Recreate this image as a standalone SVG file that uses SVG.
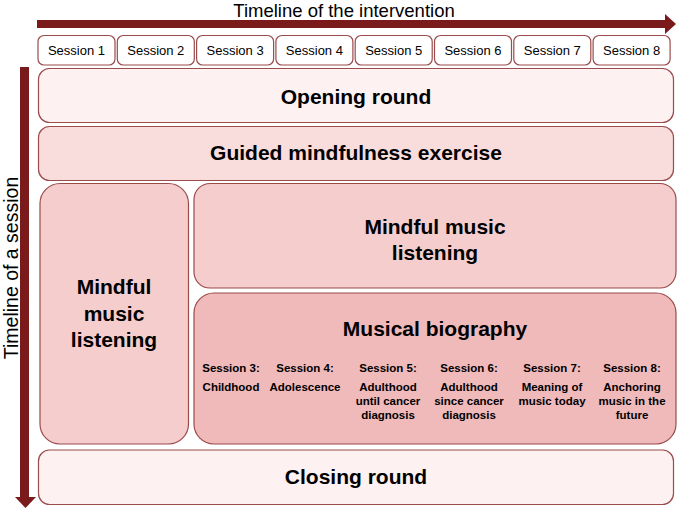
<svg xmlns="http://www.w3.org/2000/svg" width="677" height="509" viewBox="0 0 677 509">
<style>
.t{font-family:"Liberation Sans",Arial,sans-serif;fill:#000}
.sess{font-size:13px;text-anchor:middle}
.title{font-size:21px;font-weight:bold;text-anchor:middle}
.sub{font-size:11.5px;font-weight:bold;text-anchor:middle}
.axis{font-size:18.5px}
.box{stroke:#9a4b4b;stroke-width:1.2}
.sbox{fill:#ffffff;stroke:#9a4b4b;stroke-width:1.2}
.arrow{fill:#7b1a1a}
</style>
<rect width="677" height="509" fill="#ffffff"/>
<g id="connectors">
<rect class="arrow" x="37" y="20" width="629" height="8"/>
<polygon class="arrow" points="665,14 665,34 676,24"/>
<rect class="arrow" x="20" y="67" width="9" height="431"/>
<polygon class="arrow" points="15,497 36,497 25.5,508"/>
</g>
<text class="t axis" x="344" y="16.8" text-anchor="middle">Timeline of the intervention</text>
<text class="t axis" transform="translate(17.7,268) rotate(-90)" text-anchor="middle" style="font-size:19.5px">Timeline of a session</text>
<g id="sessions">
<g id="s1"><rect class="sbox" x="38" y="35.5" width="77" height="29.5" rx="6"/><text class="t sess" x="76.5" y="55">Session 1</text></g>
<g id="s2"><rect class="sbox" x="117.3" y="35.5" width="77" height="29.5" rx="6"/><text class="t sess" x="155.8" y="55">Session 2</text></g>
<g id="s3"><rect class="sbox" x="196.6" y="35.5" width="77" height="29.5" rx="6"/><text class="t sess" x="235.1" y="55">Session 3</text></g>
<g id="s4"><rect class="sbox" x="275.9" y="35.5" width="77" height="29.5" rx="6"/><text class="t sess" x="314.4" y="55">Session 4</text></g>
<g id="s5"><rect class="sbox" x="355.2" y="35.5" width="77" height="29.5" rx="6"/><text class="t sess" x="393.7" y="55">Session 5</text></g>
<g id="s6"><rect class="sbox" x="434.5" y="35.5" width="77" height="29.5" rx="6"/><text class="t sess" x="473" y="55">Session 6</text></g>
<g id="s7"><rect class="sbox" x="513.8" y="35.5" width="77" height="29.5" rx="6"/><text class="t sess" x="552.3" y="55">Session 7</text></g>
<g id="s8"><rect class="sbox" x="593.1" y="35.5" width="77" height="29.5" rx="6"/><text class="t sess" x="631.6" y="55">Session 8</text></g>
</g>
<g id="opening">
<rect class="box" x="38.5" y="68.5" width="635" height="54" rx="11" fill="#fdf1f1"/>
<text class="t title" x="356" y="104">Opening round</text>
</g>
<g id="guided">
<rect class="box" x="38.5" y="126.5" width="635" height="54" rx="11" fill="#f9dcdc"/>
<text class="t title" x="356" y="160">Guided mindfulness exercise</text>
</g>
<g id="mindful-left">
<rect class="box" x="40" y="183.5" width="148.5" height="260.5" rx="20" fill="#f5cdcd"/>
<text class="t title" x="114" y="294">Mindful</text>
<text class="t title" x="114" y="320.5">music</text>
<text class="t title" x="114" y="347">listening</text>
</g>
<g id="mindful-right">
<rect class="box" x="194" y="183.5" width="482" height="104.5" rx="16" fill="#f5cdcd"/>
<text class="t title" x="435" y="234">Mindful music</text>
<text class="t title" x="435" y="260">listening</text>
</g>
<g id="biography">
<rect class="box" x="194" y="293" width="482" height="151" rx="20" fill="#f0b9ba"/>
<text class="t title" x="435" y="336">Musical biography</text>
<text class="t sub" x="231" y="372">Session 3:</text>
<text class="t sub" x="231" y="391">Childhood</text>
<text class="t sub" x="305" y="372">Session 4:</text>
<text class="t sub" x="305" y="391">Adolescence</text>
<text class="t sub" x="388" y="372">Session 5:</text>
<text class="t sub" x="388" y="391">Adulthood</text>
<text class="t sub" x="388" y="405">until cancer</text>
<text class="t sub" x="388" y="419">diagnosis</text>
<text class="t sub" x="469" y="372">Session 6:</text>
<text class="t sub" x="469" y="391">Adulthood</text>
<text class="t sub" x="469" y="405">since cancer</text>
<text class="t sub" x="469" y="419">diagnosis</text>
<text class="t sub" x="552" y="372">Session 7:</text>
<text class="t sub" x="552" y="391">Meaning of</text>
<text class="t sub" x="552" y="405">music today</text>
<text class="t sub" x="632" y="372">Session 8:</text>
<text class="t sub" x="632" y="391">Anchoring</text>
<text class="t sub" x="632" y="405">music in the</text>
<text class="t sub" x="632" y="419">future</text>
</g>
<g id="closing">
<rect class="box" x="38.5" y="450" width="635" height="54.5" rx="11" fill="#fdf1f1"/>
<text class="t title" x="356" y="484">Closing round</text>
</g>
</svg>
